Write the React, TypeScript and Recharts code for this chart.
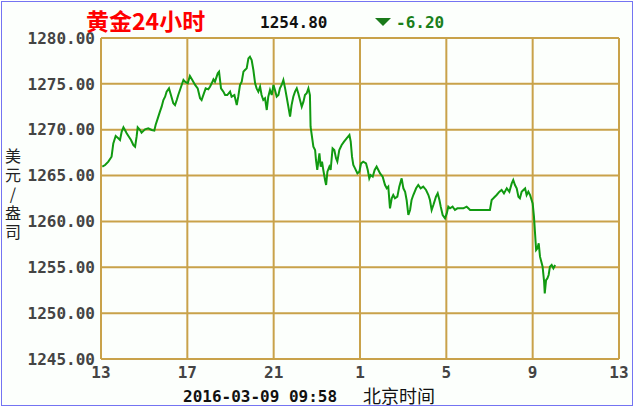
import React from "react";
import { LineChart, Line, XAxis, YAxis, CartesianGrid } from "recharts";

// position along the time axis (units of days since the first "13" tick)
const times = [
  0.06, 0.19, 0.34, 0.49, 0.57, 0.68, 0.80, 0.88, 0.96, 1.04,
  1.11, 1.19, 1.27, 1.39, 1.50, 1.58, 1.65, 1.70, 1.81, 1.88,
  2.04, 2.19, 2.35, 2.47, 2.53, 2.63, 2.73, 2.81, 2.89, 2.97,
  3.04, 3.15, 3.24, 3.35, 3.43, 3.51, 3.58, 3.71, 3.82, 3.89,
  4.02, 4.12, 4.23, 4.36, 4.48, 4.59, 4.66, 4.74, 4.85, 4.97,
  5.05, 5.13, 5.21, 5.28, 5.41, 5.47, 5.56, 5.67, 5.75, 5.85,
  5.98, 6.05, 6.18, 6.29, 6.36, 6.44, 6.52, 6.60, 6.67, 6.75,
  6.83, 6.90, 6.98, 7.06, 7.14, 7.21, 7.29, 7.37, 7.44, 7.52,
  7.60, 7.68, 7.75, 7.83, 7.91, 7.99, 8.06, 8.14, 8.22, 8.29,
  8.37, 8.45, 8.53, 8.60, 8.68, 8.76, 8.83, 8.91, 8.99, 9.07,
  9.14, 9.22, 9.30, 9.38, 9.45, 9.53, 9.61, 9.68, 9.71, 9.84,
  9.92, 9.96, 10.02, 10.12, 10.18, 10.24, 10.30, 10.38, 10.43, 10.49,
  10.58, 10.64, 10.73, 10.81, 10.89, 10.95, 11.04, 11.15, 11.26, 11.38,
  11.51, 11.57, 11.63, 11.69, 11.77, 11.88, 11.97, 12.05, 12.15, 12.28,
  12.36, 12.43, 12.49, 12.59, 12.68, 12.77, 12.85, 12.93, 13.05, 13.16,
  13.24, 13.31, 13.39, 13.47, 13.54, 13.62, 13.73, 13.82, 13.93, 14.01,
  14.09, 14.16, 14.24, 14.32, 14.39, 14.47, 14.60, 14.70, 14.81, 14.93,
  15.06, 15.17, 15.24, 15.32, 15.40, 15.52, 15.60, 15.68, 15.74, 15.83,
  15.94, 16.02, 16.09, 16.17, 16.29, 16.40, 16.51, 16.63, 16.79, 16.94,
  17.02, 17.10, 17.56, 18.02, 18.10, 18.18, 18.33, 18.46, 18.56, 18.67,
  18.80, 18.92, 19.03, 19.10, 19.18, 19.26, 19.34, 19.41, 19.49, 19.57,
  19.65, 19.72, 19.80, 19.88, 19.95, 20.00, 20.06, 20.11, 20.16, 20.22,
  20.28, 20.34, 20.42, 20.46, 20.53, 20.56, 20.62, 20.68, 20.74, 20.80,
  20.88, 20.96, 21.04,
];

const prices = [
  1265.97, 1266.15, 1266.52, 1267.06, 1268.51, 1269.31, 1269.06, 1268.88, 1269.79, 1270.26,
  1269.97, 1269.61, 1269.31, 1268.88, 1268.33, 1268.15, 1269.24, 1270.26, 1269.97, 1269.68,
  1270.04, 1270.15, 1269.97, 1269.90, 1270.51, 1271.24, 1271.97, 1272.51, 1273.24, 1273.60,
  1274.15, 1274.51, 1273.78, 1272.88, 1272.69, 1273.24, 1273.78, 1274.69, 1275.42, 1275.24,
  1275.06, 1275.86, 1275.42, 1274.88, 1274.51, 1273.42, 1273.24, 1273.78, 1274.51, 1274.40,
  1274.69, 1275.06, 1275.49, 1275.24, 1276.15, 1276.33, 1274.51, 1274.15, 1273.78, 1273.78,
  1274.15, 1273.60, 1273.78, 1272.69, 1273.60, 1274.88, 1275.24, 1276.33, 1276.51, 1276.69,
  1277.78, 1277.96, 1277.60, 1276.51, 1275.06, 1274.51, 1274.15, 1274.69, 1273.78, 1273.24,
  1273.42, 1272.15, 1273.60, 1274.33, 1273.78, 1274.88, 1274.33, 1273.60, 1273.78, 1274.51,
  1274.88, 1275.42, 1274.51, 1273.60, 1272.51, 1271.42, 1272.69, 1273.60, 1274.15, 1274.51,
  1273.97, 1273.24, 1272.51, 1273.06, 1273.78, 1273.97, 1274.51, 1273.78, 1270.33, 1268.15,
  1267.79, 1266.70, 1265.61, 1267.42, 1265.97, 1266.52, 1265.61, 1264.52, 1263.97, 1265.42,
  1265.97, 1265.61, 1267.97, 1267.79, 1266.88, 1266.52, 1267.79, 1268.33, 1268.70, 1269.06,
  1269.42, 1268.70, 1267.06, 1266.15, 1265.79, 1265.24, 1265.42, 1266.33, 1266.52, 1266.33,
  1265.61, 1264.70, 1265.06, 1264.88, 1265.61, 1265.97, 1265.61, 1265.24, 1264.88, 1263.97,
  1263.61, 1263.79, 1261.43, 1262.52, 1262.88, 1262.52, 1262.70, 1263.79, 1264.70, 1263.61,
  1263.24, 1262.34, 1260.70, 1261.25, 1262.34, 1262.88, 1263.61, 1263.97, 1263.61, 1263.79,
  1263.43, 1262.88, 1262.34, 1261.25, 1261.79, 1262.70, 1263.06, 1262.34, 1261.61, 1260.70,
  1260.34, 1260.88, 1261.61, 1261.43, 1261.61, 1261.25, 1261.43, 1261.43, 1261.43, 1261.61,
  1261.43, 1261.25, 1261.25, 1261.25, 1262.34, 1262.52, 1262.88, 1263.24, 1263.43, 1263.06,
  1263.61, 1263.24, 1264.15, 1264.52, 1263.97, 1263.61, 1262.70, 1262.52, 1263.24, 1263.43,
  1263.61, 1262.88, 1263.24, 1262.88, 1262.34, 1261.97, 1260.52, 1258.70, 1256.88, 1257.07,
  1257.61, 1256.16, 1255.43, 1255.07, 1253.43, 1252.16, 1253.61, 1253.79, 1254.16, 1255.07,
  1255.25, 1254.88, 1255.25,
];

const xTickPositions = [0, 4, 8, 12, 16, 20, 24];
const xTickLabels = ["13", "17", "21", "1", "5", "9", "13"];
const yTicks = [1245, 1250, 1255, 1260, 1265, 1270, 1275, 1280];

const title = "黄金24小时";
const lastPrice = "1254.80";
const change = "-6.20";
const timestamp = "2016-03-09 09:58";
const timeZoneLabel = "北京时间";
const unitLabel = "美元/盎司";

const data = times.map((t, i) => ({ t, price: prices[i] }));

const mono = '"DejaVu Sans Mono", "Liberation Mono", monospace';
const cjk = '"Noto Sans CJK SC", "Noto Sans", sans-serif';

export default function App() {
  return (
    <div style={{ position: "absolute", left: 0, top: 0, width: 635, height: 408, background: "#ffffff", overflow: "hidden" }}>
      <div style={{ position: "absolute", left: 1, top: 1, width: 630, height: 403, border: "1px solid #7474f2", background: "#fcfffc" }} />
      <div style={{ position: "absolute", left: 0, top: 0 }}>
        <LineChart width={635} height={408} data={data} margin={{ top: 38, right: 16, bottom: 19, left: 0 }}>
          <CartesianGrid stroke="#c9a24a" strokeWidth={2} fill="none" />
          <XAxis
            type="number"
            dataKey="t"
            domain={[0, 24]}
            ticks={xTickPositions}
            interval={0}
            tickFormatter={(v: number) => xTickLabels[xTickPositions.indexOf(v)]}
            axisLine={false}
            tickLine={false}
            height={30}
            tick={{ fill: "#444444", fontSize: 16, fontWeight: "bold", fontFamily: mono }}
          />
          <YAxis
            type="number"
            domain={[1245, 1280]}
            ticks={yTicks}
            interval={0}
            tickFormatter={(v: number) => v.toFixed(2)}
            axisLine={false}
            tickLine={false}
            tickSize={4}
            tickMargin={2}
            width={101}
            tick={{ fill: "#444444", fontSize: 16, fontWeight: "bold", fontFamily: mono }}
          />
          <Line
            type="linear"
            dataKey="price"
            stroke="#119a11"
            strokeWidth={2}
            dot={false}
            isAnimationActive={false}
          />
        </LineChart>
      </div>
      <svg width={635} height={408} style={{ position: "absolute", left: 0, top: 0, pointerEvents: "none" }}>
        <text x={86} y={30} fontSize={23} fontWeight="bold" fill="#ff0000" fontFamily={cjk}>{title}</text>
        <text x={260} y={28} fontSize={16} fontWeight="bold" fill="#111111" fontFamily={mono}>{lastPrice}</text>
        <polygon points="375,18 391,18 383,26" fill="#1a7a1a" />
        <text x={396} y={28} fontSize={16} fontWeight="bold" fill="#1a7f1a" fontFamily={mono}>{change}</text>
        <text
          x={13}
          y={148}
          fontSize={16}
          fill="#222222"
          fontFamily={cjk}
          letterSpacing={3}
          style={{ writingMode: "vertical-rl", textOrientation: "upright" } as React.CSSProperties}
        >
          {unitLabel}
        </text>
        <text x={183} y={402} fontSize={16} fontWeight="bold" fill="#111111" fontFamily={mono}>{timestamp}</text>
        <text x={363} y={403} fontSize={18} fill="#111111" fontFamily={cjk}>{timeZoneLabel}</text>
      </svg>
    </div>
  );
}
